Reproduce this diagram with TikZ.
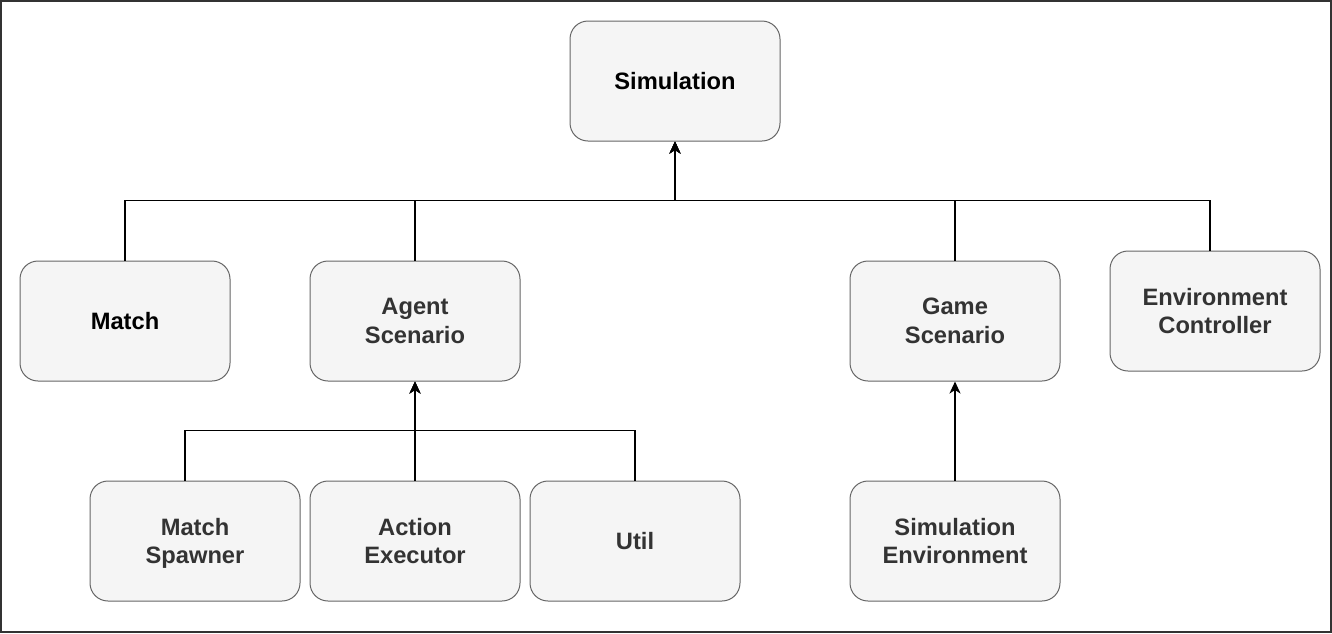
\documentclass[tikz,border=0pt]{standalone}
\usepackage{fontspec}
\setmainfont{Liberation Sans}
\usetikzlibrary{arrows.meta}
\definecolor{boxfill}{HTML}{F5F5F5}
\definecolor{boxline}{HTML}{666666}
\definecolor{boxtext}{HTML}{333333}
\begin{document}
\begin{tikzpicture}[x=1pt, y=-1pt,
  every node/.style={draw=boxline, fill=boxfill, rounded corners=18pt, line width=1pt,
    minimum width=210pt, minimum height=120pt, align=center, text=boxtext,
    font=\fontsize{23.7}{28.5}\selectfont\bfseries},
  edge/.style={line width=1.8pt, -{Stealth[length=12pt, width=11pt, inset=3.5pt]}}]
\useasboundingbox (0,0) rectangle (1332,633);
\draw[line width=2pt, draw=boxtext] (1,1) rectangle (1331,632);

\node (sim) at (675,81) [text=black] {Simulation};
\node (match) at (125,321) [text=black] {Match};
\node (agent) at (415,321) {Agent\\Scenario};
\node (game) at (955,321) {Game\\Scenario};
\node (envc) at (1215,311) {Environment\\Controller};
\node (spawn) at (195,541) {Match\\\smash{Spawner}};
\node (exec) at (415,541) {Action\\Executor};
\node (util) at (635,541) {Util};
\node (simenv) at (955,541) {Simulation\\Environment};

\draw[edge] (match.north) -- ++(0,-60) -| (sim.south);
\draw[edge] (agent.north) -- ++(0,-60) -| (sim.south);
\draw[edge] (game.north) -- ++(0,-60) -| (sim.south);
\draw[edge] ([xshift=-5pt]envc.north) -- ++(0,-50) -| (sim.south);
\draw[edge] ([xshift=-10pt]spawn.north) -- ++(0,-50) -| (agent.south);
\draw[edge] (exec.north) -- (agent.south);
\draw[edge] (util.north) -- ++(0,-50) -| (agent.south);
\draw[edge] (simenv.north) -- (game.south);
\end{tikzpicture}
\end{document}
